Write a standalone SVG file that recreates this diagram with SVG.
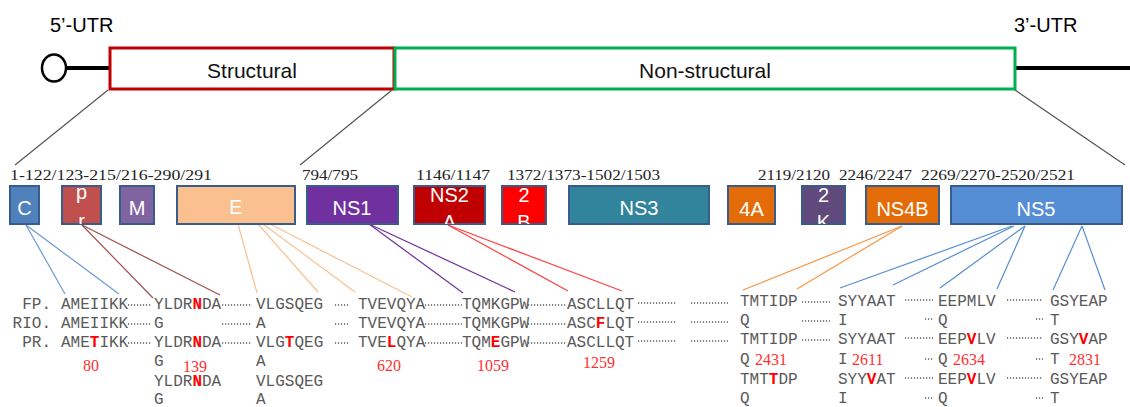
<svg xmlns="http://www.w3.org/2000/svg" width="1130" height="407" viewBox="0 0 1130 407">
<defs>
<style>
.utr{font-family:"Liberation Sans",Arial,sans-serif;font-size:20px;fill:#000}
.reg{font-family:"Liberation Sans",Arial,sans-serif;font-size:21px;fill:#111;text-anchor:middle}
.box{stroke:#385D8A;stroke-width:2}
.bl{font-family:"Liberation Sans",Arial,sans-serif;font-size:20px;fill:#fff;text-anchor:middle}
.pos{font-family:"Liberation Serif","Times New Roman",serif;font-size:15px;fill:#222}
.seq{font-family:"Liberation Mono","Courier New",monospace;font-size:16px;fill:#5a5a5a}
.mut{fill:#ff0000;font-weight:bold}
.num{font-family:"Liberation Serif","Times New Roman",serif;font-size:16px;fill:#ff3030}
.dot{stroke:#5a5a5a;stroke-width:1.3;stroke-dasharray:1.2 1.8}
.exp{stroke:#555;stroke-width:1.2;fill:none}
</style>
<clipPath id="cpr"><rect x="62" y="185" width="39" height="39"/></clipPath>
<clipPath id="cns2a"><rect x="414" y="185" width="71" height="39"/></clipPath>
<clipPath id="c2b"><rect x="502" y="185" width="44" height="39"/></clipPath>
<clipPath id="c2k"><rect x="802" y="185" width="43" height="39"/></clipPath>
</defs>

<g id="genome">
<text class="utr" x="50" y="32">5’-UTR</text>
<text class="utr" x="1014" y="32">3’-UTR</text>
<line x1="65" y1="68" x2="111" y2="68" stroke="#000" stroke-width="4"/>
<line x1="1015" y1="68" x2="1130" y2="68" stroke="#000" stroke-width="4"/>
<ellipse cx="54" cy="68" rx="12" ry="13.5" fill="#fff" stroke="#000" stroke-width="2.5"/>
</g>
<g id="structural">
<rect x="110" y="48" width="284" height="41" fill="#fff" stroke="#C00000" stroke-width="3"/>
<text class="reg" x="252" y="78">Structural</text>
</g>
<g id="nonstructural">
<rect x="395" y="48" width="620" height="41" fill="#fff" stroke="#00B050" stroke-width="3"/>
<text class="reg" x="705" y="78">Non-structural</text>
</g>

<g id="expansion">
<line class="exp" x1="108" y1="90" x2="15" y2="165"/>
<line class="exp" x1="392" y1="90" x2="300" y2="165"/>
<line class="exp" x1="1015" y1="90" x2="1125" y2="165"/>
</g>

<g id="positions">
<text class="pos" x="10" y="180" textLength="202" lengthAdjust="spacingAndGlyphs">1-122/123-215/216-290/291</text>
<text class="pos" x="302" y="180" textLength="56" lengthAdjust="spacingAndGlyphs">794/795</text>
<text class="pos" x="416" y="180" textLength="74" lengthAdjust="spacingAndGlyphs">1146/1147</text>
<text class="pos" x="507" y="180" textLength="153" lengthAdjust="spacingAndGlyphs">1372/1373-1502/1503</text>
<text class="pos" x="758" y="180" textLength="72" lengthAdjust="spacingAndGlyphs">2119/2120</text>
<text class="pos" x="839" y="180" textLength="73" lengthAdjust="spacingAndGlyphs">2246/2247</text>
<text class="pos" x="921" y="180" textLength="154" lengthAdjust="spacingAndGlyphs">2269/2270-2520/2521</text>
</g>

<g id="connectors" fill="none" stroke-width="1.2">
<g stroke="#6A9AD4">
<line x1="26" y1="225" x2="65" y2="294"/>
<line x1="26" y1="225" x2="119" y2="294"/>
</g>
<g stroke="#A0504D">
<line x1="82" y1="225" x2="153" y2="298"/>
<line x1="82" y1="225" x2="220" y2="295"/>
</g>
<g stroke="#FAC090">
<line x1="238" y1="224" x2="257" y2="293"/>
<line x1="258" y1="224" x2="318" y2="292"/>
<line x1="263" y1="224" x2="355" y2="292"/>
<line x1="270" y1="224" x2="412" y2="297"/>
</g>
<g stroke="#7030A0">
<line x1="369" y1="224" x2="463" y2="293"/>
<line x1="369" y1="224" x2="515" y2="292"/>
</g>
<g stroke="#FF4040">
<line x1="448" y1="225" x2="568" y2="291"/>
<line x1="448" y1="225" x2="622" y2="291"/>
</g>
<g stroke="#F79646">
<line x1="902" y1="226" x2="743" y2="290"/>
<line x1="902" y1="226" x2="797" y2="289"/>
</g>
<g stroke="#558ED5">
<line x1="1012" y1="226" x2="840" y2="288"/>
<line x1="1014" y1="226" x2="893" y2="285"/>
<line x1="1025" y1="226" x2="940" y2="288"/>
<line x1="1025" y1="226" x2="997" y2="289"/>
<line x1="1082" y1="226" x2="1053" y2="290"/>
<line x1="1082" y1="226" x2="1105" y2="290"/>
</g>
</g>

<g id="C"><rect class="box" x="10" y="186" width="29" height="38" fill="#4F81BD"/><text class="bl" x="24.5" y="215">C</text></g>
<g id="pr"><rect class="box" x="62" y="186" width="39" height="38" fill="#C0504D"/><g clip-path="url(#cpr)"><text class="bl" x="81.5" y="199">p</text><text class="bl" x="81.5" y="228">r</text></g></g>
<g id="M"><rect class="box" x="120" y="186" width="34" height="38" fill="#8064A2"/><text class="bl" x="137" y="215">M</text></g>
<g id="E"><rect class="box" x="177" y="186" width="118" height="38" fill="#FAC090"/><text class="bl" x="236" y="214">E</text></g>
<g id="NS1"><rect class="box" x="307" y="186" width="91" height="38" fill="#7030A0"/><text class="bl" x="352" y="215">NS1</text></g>
<g id="NS2A"><rect class="box" x="414" y="186" width="71" height="38" fill="#C00000"/><g clip-path="url(#cns2a)"><text class="bl" x="449.5" y="202">NS2</text><text class="bl" x="449.5" y="229">A</text></g></g>
<g id="NS2B"><rect class="box" x="502" y="186" width="44" height="38" fill="#FF0000"/><g clip-path="url(#c2b)"><text class="bl" x="524" y="202">2</text><text class="bl" x="524" y="229">B</text></g></g>
<g id="NS3"><rect class="box" x="569" y="186" width="140" height="38" fill="#31849B"/><text class="bl" x="639" y="215">NS3</text></g>
<g id="NS4A"><rect class="box" x="728" y="186" width="47" height="38" fill="#E36C09"/><text class="bl" x="751.5" y="216">4A</text></g>
<g id="2K"><rect class="box" x="802" y="186" width="43" height="38" fill="#604A7B"/><g clip-path="url(#c2k)"><text class="bl" x="823.5" y="202">2</text><text class="bl" x="823.5" y="229">K</text></g></g>
<g id="NS4B"><rect class="box" x="866" y="186" width="73" height="38" fill="#E36C09"/><text class="bl" x="902.5" y="216">NS4B</text></g>
<g id="NS5"><rect class="box" x="951" y="186" width="171" height="38" fill="#558ED5"/><text class="bl" x="1036" y="216">NS5</text></g>

<g id="sequences" class="seq">
<text x="51" y="309" text-anchor="end">FP.</text>
<text x="51" y="328" text-anchor="end">RIO.</text>
<text x="51" y="347" text-anchor="end">PR.</text>

<text x="61" y="309">AMEIIKK</text>
<text x="61" y="328">AMEIIKK</text>
<text x="61" y="347">AME<tspan class="mut">T</tspan>IKK</text>

<text x="154" y="309">YLDR<tspan class="mut">N</tspan>DA</text>
<text x="154" y="328">G</text>
<text x="154" y="347">YLDR<tspan class="mut">N</tspan>DA</text>
<text x="154" y="366">G</text>
<text x="154" y="386">YLDR<tspan class="mut">N</tspan>DA</text>
<text x="154" y="404">G</text>

<text x="256" y="309">VLGSQEG</text>
<text x="256" y="328">A</text>
<text x="256" y="347">VLG<tspan class="mut">T</tspan>QEG</text>
<text x="256" y="366">A</text>
<text x="256" y="386">VLGSQEG</text>
<text x="256" y="404">A</text>

<text x="358" y="309">TVEVQYA</text>
<text x="358" y="328">TVEVQYA</text>
<text x="358" y="347">TVE<tspan class="mut">L</tspan>QYA</text>

<text x="462" y="309">TQMKGPW</text>
<text x="462" y="328">TQMKGPW</text>
<text x="462" y="347">TQM<tspan class="mut">E</tspan>GPW</text>

<text x="567" y="309">ASCLLQT</text>
<text x="567" y="328">ASC<tspan class="mut">F</tspan>LQT</text>
<text x="567" y="347">ASCLLQT</text>

<text x="740" y="306">TMTIDP</text>
<text x="740" y="325">Q</text>
<text x="740" y="344">TMTIDP</text>
<text x="740" y="364">Q</text>
<text x="740" y="384">TMT<tspan class="mut">T</tspan>DP</text>
<text x="740" y="403">Q</text>

<text x="838" y="306">SYYAAT</text>
<text x="838" y="325">I</text>
<text x="838" y="344">SYYAAT</text>
<text x="838" y="364">I</text>
<text x="838" y="384">SYY<tspan class="mut">V</tspan>AT</text>
<text x="838" y="403">I</text>

<text x="938" y="306">EEPMLV</text>
<text x="938" y="325">Q</text>
<text x="938" y="344">EEP<tspan class="mut">V</tspan>LV</text>
<text x="938" y="364">Q</text>
<text x="938" y="384">EEP<tspan class="mut">V</tspan>LV</text>
<text x="938" y="403">Q</text>

<text x="1050" y="306">GSYEAP</text>
<text x="1050" y="325">T</text>
<text x="1050" y="344">GSY<tspan class="mut">V</tspan>AP</text>
<text x="1050" y="364">T</text>
<text x="1050" y="384">GSYEAP</text>
<text x="1050" y="403">T</text>
</g>

<g id="dots">
<line class="dot" x1="128" y1="305" x2="152" y2="305"/>
<line class="dot" x1="128" y1="324" x2="152" y2="324"/>
<line class="dot" x1="128" y1="343" x2="152" y2="343"/>
<line class="dot" x1="222" y1="305" x2="252" y2="305"/>
<line class="dot" x1="222" y1="324" x2="252" y2="324"/>
<line class="dot" x1="222" y1="343" x2="252" y2="343"/>
<line class="dot" x1="335" y1="305" x2="348" y2="305"/>
<line class="dot" x1="335" y1="324" x2="348" y2="324"/>
<line class="dot" x1="335" y1="343" x2="348" y2="343"/>
<line class="dot" x1="425" y1="305" x2="462" y2="305"/>
<line class="dot" x1="425" y1="324" x2="462" y2="324"/>
<line class="dot" x1="425" y1="343" x2="462" y2="343"/>
<line class="dot" x1="528" y1="305" x2="566" y2="305"/>
<line class="dot" x1="528" y1="324" x2="566" y2="324"/>
<line class="dot" x1="528" y1="343" x2="566" y2="343"/>
<line class="dot" x1="638" y1="303" x2="677" y2="303"/>
<line class="dot" x1="638" y1="322" x2="677" y2="322"/>
<line class="dot" x1="638" y1="341" x2="677" y2="341"/>
<line class="dot" x1="691" y1="303" x2="728" y2="303"/>
<line class="dot" x1="691" y1="322" x2="728" y2="322"/>
<line class="dot" x1="691" y1="341" x2="728" y2="341"/>
<line class="dot" x1="802" y1="302" x2="830" y2="302"/>
<line class="dot" x1="802" y1="321" x2="830" y2="321"/>
<line class="dot" x1="802" y1="340" x2="830" y2="340"/>
<line class="dot" x1="905" y1="300" x2="933" y2="300"/>
<line class="dot" x1="925" y1="319" x2="933" y2="319"/>
<line class="dot" x1="905" y1="338" x2="933" y2="338"/>
<line class="dot" x1="925" y1="359" x2="933" y2="359"/>
<line class="dot" x1="905" y1="378" x2="933" y2="378"/>
<line class="dot" x1="925" y1="398" x2="933" y2="398"/>
<line class="dot" x1="1007" y1="300" x2="1043" y2="300"/>
<line class="dot" x1="1036" y1="319" x2="1043" y2="319"/>
<line class="dot" x1="1007" y1="338" x2="1043" y2="338"/>
<line class="dot" x1="1036" y1="359" x2="1043" y2="359"/>
<line class="dot" x1="1007" y1="378" x2="1043" y2="378"/>
<line class="dot" x1="1036" y1="398" x2="1043" y2="398"/>
</g>

<g id="numbers" class="num">
<text x="83" y="371">80</text>
<text x="183" y="372">139</text>
<text x="377" y="371">620</text>
<text x="477" y="371">1059</text>
<text x="583" y="368">1259</text>
<text x="755" y="365">2431</text>
<text x="852" y="365">2611</text>
<text x="953" y="365">2634</text>
<text x="1069" y="365">2831</text>
</g>
</svg>
